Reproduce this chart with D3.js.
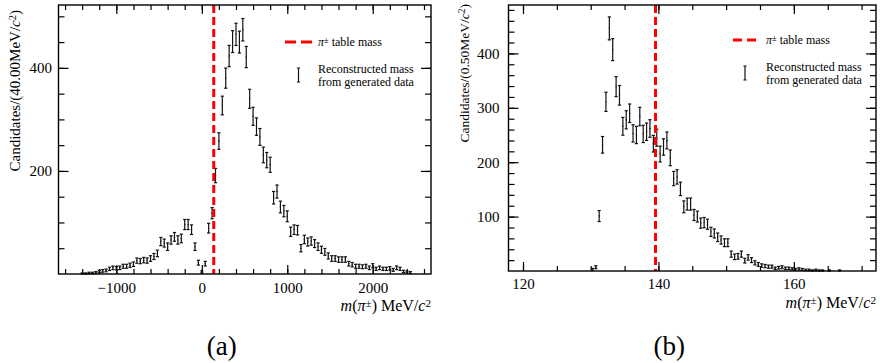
<!DOCTYPE html>
<html>
<head>
<meta charset="utf-8">
<script src="https://cdn.jsdelivr.net/npm/d3@7"></script>
<style>
  body { margin: 0; background: #fff; }
  text { font-family: 'Liberation Serif', Tinos, 'Times New Roman', serif; fill: #000; }
</style>
</head>
<body>
<svg id="fig" width="880" height="363"></svg>
<script>
// ---- data ----
// (a) reconstructed mass, 40 MeV bins (bin centres)
const binsA = [-1400,-1360,-1320,-1280,-1240,-1200,-1160,-1120,-1080,-1040,-1000,-960,-920,-880,-840,-800,
  -760,-720,-680,-640,-600,-560,-520,-480,-440,-400,-360,-320,-280,-240,-200,-160,-120,-80,-40,0,
  40,80,120,160,200,240,280,320,360,400,440,480,520,560,600,640,680,720,760,800,840,880,920,960,1000,
  1040,1080,1120,1160,1200,1240,1280,1320,1360,1400,1440,1480,1520,1560,1600,1640,1680,1720,1760,1800,
  1840,1880,1920,1960,2000,2040,2080,2120,2160,2200,2240,2280,2320,2360,2400,2440]
const countsA = [1,1,2,2,3,5,6,7,10,12,11,12,15,15,17,19,
  26,25,27,26,30,34,40,63,60,53,66,72,66,69,96,96,86,53,22,4,
  20,89,118,191,258,327,380,423,451,465,450,474,421,340,306,286,266,231,221,212,148,160,130,122,112,
  82,86,85,50,67,62,64,59,53,47,43,35,30,30,28,28,28,20,18,15,
  15,14,15,12,16,10,12,10,10,11,8,12,10,5,4,3]

// (b) zoomed, 0.5 MeV bins (bin centres)
const binsB = [130.25,130.75,131.25,131.75,132.25,132.75,133.25,133.75,134.25,134.75,135.25,135.75,
  136.25,136.75,137.25,137.75,138.25,138.75,139.25,139.75,140.25,140.75,141.25,141.75,142.25,142.75,
  143.25,143.75,144.25,144.75,145.25,145.75,146.25,146.75,147.25,147.75,148.25,148.75,149.25,149.75,
  150.25,150.75,151.25,151.75,152.25,152.75,153.25,153.75,154.25,154.75,155.25,155.75,156.25,156.75,
  157.25,157.75,158.25,158.75,159.25,159.75,160.25,160.75,161.25,161.75,162.25,162.75,163.25,163.75,
  164.25,165.25,166.75]
const countsB = [3,7,101,232,311,446,407,339,323,266,278,290,
  253,250,284,252,256,262,234,245,215,228,240,208,170,173,
  151,118,123,123,103,100,88,89,86,72,69,62,57,52,
  52,31,26,27,31,19,25,20,15,12,10,9,8,8,
  5,6,7,5,5,4,3,4,3,2,2,1,2,1,
  1,1,1]

const pionMass = 139.57

const xLabelsA = [-1000, 0, 1000, 2000]
const yLabelsA = [200, 400]
const xLabelsB = [120, 140, 160]
const yLabelsB = [100, 200, 300, 400]

const FONT = "'Liberation Serif', Tinos, 'Times New Roman', serif"

const svg = d3.select('#fig')
svg.append('rect').attr('width', 880).attr('height', 363).attr('fill', '#fff')

// parts = [[text, style]] style: 'i' italic, 's' superscript
function rich(sel, parts) {
  parts.forEach(p => {
    const t = sel.append('tspan').text(p[0])
    if (p[1] && p[1].includes('i')) t.attr('font-style', 'italic')
    if (p[1] && p[1].includes('s')) t.attr('font-size', '0.7em').attr('baseline-shift', '40%')
  })
  return sel
}

function panel(o) {
  const g = svg.append('g').attr('font-family', FONT)
  const x = d3.scaleLinear().domain(o.xDom).range([o.x0, o.x1])
  const y = d3.scaleLinear().domain(o.yDom).range([o.y1, o.y0])

  // axes: inward ticks on all four sides
  const style = a => a.call(s => s.select('.domain').remove())
    .attr('font-family', FONT).attr('font-size', 15)
  const ax = (fn, scale, vals, size, lab, pad) =>
    fn(scale).tickValues(vals).tickSize(-size).tickPadding(pad || 0)
      .tickFormat(lab ? d3.format('d') : '')

  g.append('g').attr('transform', `translate(0,${o.y1})`).call(ax(d3.axisBottom, x, o.xMinor, 5)).call(style)
  g.append('g').attr('transform', `translate(0,${o.y1})`).call(ax(d3.axisBottom, x, o.xMajor, 9, true, o.xPad)).call(style)
  g.append('g').attr('transform', `translate(0,${o.y0})`).call(ax(d3.axisTop, x, o.xMinor, 5)).call(style)
  g.append('g').attr('transform', `translate(0,${o.y0})`).call(ax(d3.axisTop, x, o.xMajor, 9)).call(style)
  g.append('g').attr('transform', `translate(${o.x0},0)`).call(ax(d3.axisLeft, y, o.yMinor, 6)).call(style)
  g.append('g').attr('transform', `translate(${o.x0},0)`).call(ax(d3.axisLeft, y, o.yMajor, 10, true, o.yPad)).call(style)
  g.append('g').attr('transform', `translate(${o.x1},0)`).call(ax(d3.axisRight, y, o.yMinor, 6)).call(style)
  g.append('g').attr('transform', `translate(${o.x1},0)`).call(ax(d3.axisRight, y, o.yMajor, 10)).call(style)
  g.selectAll('.tick line').attr('stroke', '#000').attr('stroke-width', 1.2)

  // error bars (Poisson)
  const pts = o.bins.map((b, i) => ({ b, c: o.counts[i], e: Math.sqrt(o.counts[i]) }))
  const eb = g.append('g').attr('stroke', '#111').attr('stroke-width', 1.2)
  eb.selectAll('line.v').data(pts).join('line').attr('class', 'v')
    .attr('x1', d => x(d.b)).attr('x2', d => x(d.b))
    .attr('y1', d => y(Math.max(0, d.c - d.e))).attr('y2', d => y(d.c + d.e))
  eb.selectAll('line.t').data(pts).join('line').attr('class', 't')
    .attr('x1', d => x(d.b) - 1.6).attr('x2', d => x(d.b) + 1.6)
    .attr('y1', d => y(d.c + d.e)).attr('y2', d => y(d.c + d.e))
  eb.selectAll('line.b').data(pts).join('line').attr('class', 'b')
    .attr('x1', d => x(d.b) - 1.6).attr('x2', d => x(d.b) + 1.6)
    .attr('y1', d => y(Math.max(0, d.c - d.e))).attr('y2', d => y(Math.max(0, d.c - d.e)))
  g.append('g').selectAll('circle').data(pts).join('circle')
    .attr('cx', d => x(d.b)).attr('cy', d => y(d.c)).attr('r', 0.7).attr('fill', '#111')

  // table mass line
  g.append('line').attr('x1', x(pionMass)).attr('x2', x(pionMass)).attr('y1', o.y0).attr('y2', o.y1)
    .attr('stroke', '#f00').attr('stroke-width', 3).attr('stroke-dasharray', '8,4')

  // frame
  g.append('rect').attr('x', o.x0).attr('y', o.y0).attr('width', o.x1 - o.x0).attr('height', o.y1 - o.y0)
    .attr('fill', 'none').attr('stroke', '#000').attr('stroke-width', 1.4)

  // legend
  const L = o.leg
  g.append('line').attr('x1', L.x).attr('x2', L.x + L.w).attr('y1', L.y).attr('y2', L.y)
    .attr('stroke', '#f00').attr('stroke-width', 3).attr('stroke-dasharray', L.dash)
  rich(g.append('text').attr('x', L.tx).attr('y', L.y + 4).attr('font-size', 12),
    [['π', 'i'], ['±', 's'], ['  table mass']])
  const ex = L.x + L.w / 2
  g.append('path').attr('d', `M${ex - 1.6},${L.y + 26}h3.2M${ex},${L.y + 26}v14M${ex - 1.6},${L.y + 40}h3.2`)
    .attr('stroke', '#111').attr('stroke-width', 1.2).attr('fill', 'none')
  g.append('text').attr('x', L.tx).attr('y', L.y + 31).attr('font-size', 12).text('Reconstructed mass')
  g.append('text').attr('x', L.tx).attr('y', L.y + 43.5).attr('font-size', 12).text('from generated data')

  // axis titles
  rich(g.append('text').attr('x', o.x1).attr('y', o.y1 + 37).attr('text-anchor', 'end').attr('font-size', 16),
    [['m', 'i'], ['('], ['π', 'i'], ['±', 's'], [') MeV/'], ['c', 'i'], ['2', 's']])
  rich(g.append('text').attr('transform', `translate(${o.ytx},${o.yty}) rotate(-90)`)
    .attr('text-anchor', 'end').attr('font-size', o.yfs),
    [[o.ytitle], ['c', 'i'], ['2', 's'], [')']])

  g.append('text').attr('x', (o.x0 + o.x1) / 2 - 23).attr('y', 355).attr('text-anchor', 'middle')
    .attr('font-size', 27).text(o.tag)
}

panel({
  bins: binsA, counts: countsA,
  xDom: [-1677, 2682], yDom: [0, 522], x0: 58.5, x1: 431, y0: 5, y1: 274,
  xMajor: xLabelsA, xMinor: d3.range(-1600, 2601, 200), yMajor: yLabelsA, yMinor: d3.range(50, 501, 50),
  xPad: 8.5, yPad: 6.5,
  leg: { x: 285, w: 27, y: 42, dash: '11,5', tx: 318 },
  ytitle: 'Candidates/(40.00MeV/', ytx: 20, yty: 10, yfs: 15, tag: '(a)'
})

panel({
  bins: binsB, counts: countsB,
  xDom: [117.86, 172.13], yDom: [0, 489], x0: 508.5, x1: 876, y0: 5, y1: 271,
  xMajor: xLabelsB, xMinor: d3.range(120, 171, 5), yMajor: yLabelsB, yMinor: d3.range(20, 481, 20),
  xPad: 7.5, yPad: 9,
  leg: { x: 733, w: 24, y: 40, dash: '9,5', tx: 766 },
  ytitle: 'Candidates/(0.50MeV/', ytx: 469, yty: 4, yfs: 13.5, tag: '(b)'
})
</script>
</body>
</html>
